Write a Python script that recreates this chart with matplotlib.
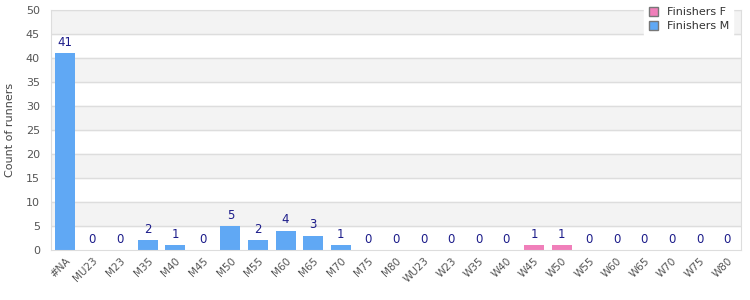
import matplotlib.pyplot as plt
import numpy as np

categories = ['#NA', 'MU23', 'M23', 'M35', 'M40', 'M45', 'M50', 'M55', 'M60', 'M65',
              'M70', 'M75', 'M80', 'WU23', 'W23', 'W35', 'W40', 'W45', 'W50', 'W55',
              'W60', 'W65', 'W70', 'W75', 'W80']
finishers_m = [41, 0, 0, 2, 1, 0, 5, 2, 4, 3, 1, 0, 0, 0, 0, 0, 0, 0, 0, 0, 0, 0, 0, 0, 0]
finishers_f = [0, 0, 0, 0, 0, 0, 0, 0, 0, 0, 0, 0, 0, 0, 0, 0, 0, 1, 1, 0, 0, 0, 0, 0, 0]

blue = '#60a8f4'
pink = '#f07fba'
label_col = '#1c1c8a'
tick_col = '#555555'

fig = plt.figure(figsize=(7.5, 3), dpi=100)
ax = fig.add_axes([0.068, 0.1667, 0.92, 0.8])

x = np.arange(len(categories))
m = np.array(finishers_m)
f = np.array(finishers_f)

# alternating background bands
for lo in range(5, 50, 10):
    ax.axhspan(lo, lo + 5, color='#f3f3f3', zorder=0)
for yv in range(5, 55, 5):
    ax.axhline(yv, color='#dddddd', linewidth=1, zorder=1)

ax.bar(x, m, width=0.72, color=blue, zorder=2, label='Finishers M')
ax.bar(x, f, width=0.72, bottom=m, color=pink, zorder=2, label='Finishers F')

totals = m + f
for xi, t in zip(x, totals):
    ax.text(xi, t + 0.9, str(t), ha='center', va='bottom', fontsize=8.5, color=label_col)

ax.set_xlim(-0.5, len(categories) - 0.5)
ax.set_ylim(0, 50)
ax.set_yticks(range(0, 55, 5))
ax.set_xticks(x)
ax.set_xticklabels(categories, rotation=45, ha='right', rotation_mode='anchor', fontsize=7.5, color=tick_col)
ax.tick_params(axis='y', labelsize=8, labelcolor=tick_col, length=0, pad=8)
ax.tick_params(axis='x', length=0, pad=4)
ax.set_ylabel('Count of runners', fontsize=8, color='#444444', labelpad=8)

for s in ax.spines.values():
    s.set_color('#dddddd')

# legend (F first, then M)
h_f = plt.Rectangle((0, 0), 1, 1, facecolor=pink, edgecolor='#777777')
h_m = plt.Rectangle((0, 0), 1, 1, facecolor=blue, edgecolor='#777777')
leg = fig.legend([h_f, h_m], ['Finishers F', 'Finishers M'], loc='upper right',
                 bbox_to_anchor=(0.985, 1.01), fontsize=8, frameon=True, fancybox=False,
                 handlelength=0.8, handleheight=0.8, handletextpad=0.8,
                 labelspacing=0.35, borderpad=0.4)
leg.get_frame().set_edgecolor('white')
leg.get_frame().set_facecolor('white')
leg.get_frame().set_alpha(1)
for t in leg.get_texts():
    t.set_color('#333333')

fig.savefig('out.png', dpi=100)
